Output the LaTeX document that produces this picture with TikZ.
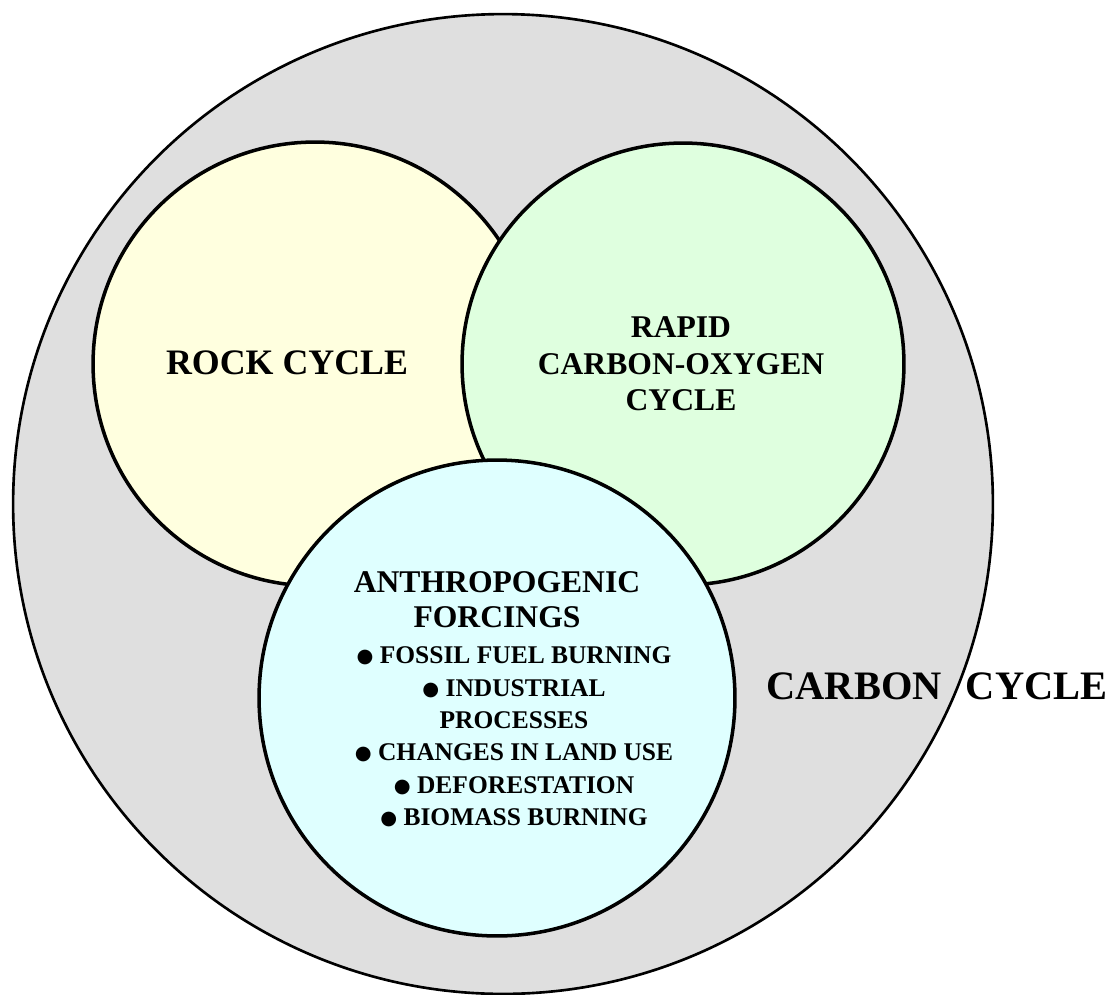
\documentclass[tikz,border=0pt]{standalone}
\usepackage{fontspec}
\setmainfont{Liberation Serif}
\newfontfamily\dotfont{DejaVu Sans}
\newcommand{\bdot}{\raisebox{0.6pt}{\dotfont\fontsize{11}{11}\selectfont ●}\ }

\definecolor{ringgrey}{HTML}{DFDFDF}
\definecolor{rockyellow}{HTML}{FFFFDF}
\definecolor{rapidgreen}{HTML}{DFFFDF}
\definecolor{humancyan}{HTML}{DFFFFF}

\begin{document}
\begin{tikzpicture}[x = 0.02cm, y = -0.02cm, font = \bfseries,
    ring/.style = {draw, line width = 2pt},
    label/.style = {align = center, inner sep = 0pt}]
            \useasboundingbox (0,0) rectangle (1115,994);

            \draw [fill = ringgrey, line width = 1.5pt] (503,504) circle(9.8cm);
            \draw [ring, fill = rockyellow] (315,364) circle(4.44cm);
            \draw [ring, fill = rapidgreen] (683,364) circle(4.42cm);
            \draw [ring, fill = humancyan] (497,698) circle(4.76cm);

            \node [label, font = \bfseries\fontsize{20.4}{24}\selectfont]
            (rock) at (287,363) {ROCK CYCLE};

            \node [label, font = \bfseries\fontsize{18}{20.7}\selectfont]
            (rapid) at (681,364) {RAPID\\ CARBON-OXYGEN\\ CYCLE};

            \node [label, font = \bfseries\fontsize{18}{19.8}\selectfont]
            (anthro) at (497,600) {ANTHROPOGENIC\\ FORCINGS};

            \node [label, font = \bfseries\fontsize{14.5}{18.4}\selectfont]
            (forcings) at (514,737) {\bdot FOSSIL FUEL BURNING\\
            \bdot INDUSTRIAL\\ PROCESSES\\
            \bdot CHANGES IN LAND USE\\
            \bdot DEFORESTATION\\
            \bdot BIOMASS BURNING};

            \node [label, font = \bfseries\fontsize{23}{26}\selectfont]
            (carbon) at (937,686) {CARBON\hspace{0.6em}CYCLE};
        \end{tikzpicture}
\end{document}
